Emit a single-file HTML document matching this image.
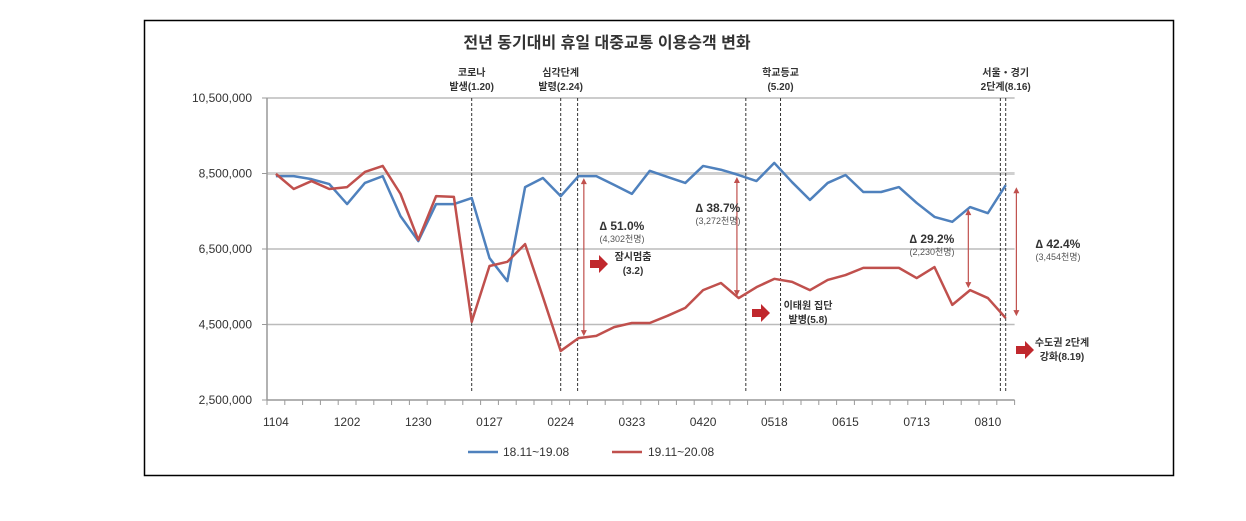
<!DOCTYPE html>
<html><head><meta charset="utf-8"><style>
body{margin:0;background:#fff;width:1246px;height:516px;overflow:hidden;font-family:"Liberation Sans","Noto Sans CJK KR",sans-serif}
svg text{font-family:"Liberation Sans","Noto Sans CJK KR",sans-serif}
</style></head><body>
<svg width="1246" height="516">
<rect x="144.5" y="20.5" width="1029" height="455" fill="#fff" stroke="#000" stroke-width="1.5"/>
<text x="607" y="48" text-anchor="middle" font-size="16" font-weight="bold" fill="#333">전년 동기대비 휴일 대중교통 이용승객 변화</text>
<g id="grid"></g><g id="axes"></g><g id="events"></g><g id="series"></g><g id="notes"></g>
<g>
<line x1="468" y1="452" x2="498" y2="452" stroke="#4f81bd" stroke-width="2.5"/>
<text x="503" y="456" font-size="12" fill="#333">18.11~19.08</text>
<line x1="612" y1="452" x2="642" y2="452" stroke="#c0504d" stroke-width="2.5"/>
<text x="648" y="456" font-size="12" fill="#333">19.11~20.08</text>
</g>
</svg>
<script>
const categories = ["1104","1111","1118","1125","1202","1209","1216","1223","1230","0106","0113","0120","0127","0203","0210","0217","0224","0302","0309","0316","0323","0330","0406","0413","0420","0427","0504","0511","0518","0525","0601","0608","0615","0622","0629","0706","0713","0720","0727","0803","0810","0817"];
const prevYear = [8.43,8.43,8.35,8.22,7.69,8.25,8.43,7.37,6.71,7.69,7.69,7.85,6.26,5.65,8.14,8.38,7.90,8.43,8.43,8.20,7.96,8.57,8.41,8.25,8.70,8.60,8.46,8.30,8.78,8.27,7.80,8.25,8.46,8.01,8.01,8.14,7.72,7.35,7.22,7.61,7.45,8.19];
const thisYear = [8.49,8.09,8.30,8.09,8.14,8.54,8.70,7.96,6.74,7.90,7.88,4.57,6.05,6.16,6.63,5.23,3.80,4.14,4.20,4.43,4.54,4.54,4.73,4.94,5.41,5.60,5.20,5.49,5.71,5.63,5.41,5.68,5.81,6.00,6.00,6.00,5.73,6.02,5.02,5.41,5.20,4.67];
const yTicks = [2.5,4.5,6.5,8.5,10.5];
const yTickLabels = ["2,500,000","4,500,000","6,500,000","8,500,000","10,500,000"];
const xLabels = ["1104","1202","1230","0127","0224","0323","0420","0518","0615","0713","0810"];
const events = [
 {x:11.0, lines:["코로나","발생(1.20)"]},
 {x:16.0, lines:["심각단계","발령(2.24)"]},
 {x:16.95, lines:[]},
 {x:26.4, lines:[]},
 {x:28.35, lines:["학교등교","(5.20)"]},
 {x:40.7, lines:[]},
 {x:41.0, lines:["서울・경기","2단계(8.16)"]}
];
const NS="http://www.w3.org/2000/svg";
const X0=267, BW=17.8, Y0=400, PPM=37.75;
const xs=i=>X0+BW*(i+0.5);
const ys=v=>Y0-(v-2.5)*PPM;
function mk(tag,attrs,parent,txt){const e=document.createElementNS(NS,tag);for(const k in attrs)e.setAttribute(k,attrs[k]);if(txt!==undefined)e.textContent=txt;parent.appendChild(e);return e;}
const grid=document.getElementById('grid'),axes=document.getElementById('axes'),ev=document.getElementById('events'),ser=document.getElementById('series'),notes=document.getElementById('notes');
const XR=X0+BW*categories.length;
yTicks.forEach((t,i)=>{
 if(i>0){const g=mk('line',{x1:X0,x2:XR,y1:ys(t),y2:ys(t),stroke:t===8.5?'#d0d0d0':'#bbb','stroke-width':t===8.5?3:1.5},grid);
 
 }
 const l=mk('text',{x:X0-15,y:ys(t)+4,'text-anchor':'end','font-size':12,fill:'#333'},axes,yTickLabels[i]);
 
 
 mk('line',{x1:X0-5,x2:X0,y1:ys(t),y2:ys(t),stroke:'#999'},axes);
});
const ax=mk('line',{x1:X0,x2:XR,y1:Y0,y2:Y0,stroke:'#999','stroke-width':1.5},axes);


const ay=mk('line',{x1:X0,x2:X0,y1:ys(10.5),y2:Y0,stroke:'#999','stroke-width':1.5},axes);


for(let k=0;k<=categories.length;k++)mk('line',{x1:X0+BW*k,x2:X0+BW*k,y1:Y0,y2:Y0+5,stroke:'#999'},axes);
categories.forEach((c,i)=>{if(xLabels.includes(c)){const t=mk('text',{x:xs(i),y:Y0+26,'text-anchor':'middle','font-size':12,fill:'#333'},axes,c);
 
 }});
events.forEach(e=>{const x=X0+BW*(e.x+0.5);
 const l=mk('line',{x1:x,x2:x,y1:98,y2:392,stroke:'#333','stroke-dasharray':'3,2','stroke-width':1},ev);
 
 
 e.lines.forEach((s,j)=>{const t=mk('text',{x:x,y:76+j*14,'text-anchor':'middle','font-size':10,'font-weight':'bold',fill:'#333'},ev,s);
 
 });
});
function line(arr,color,name){const p=mk('polyline',{points:arr.map((v,i)=>xs(i)+','+ys(v)).join(' '),fill:'none',stroke:color,'stroke-width':2.5,'stroke-linejoin':'round'},ser);
 
 }
line(prevYear,'#4f81bd','series-2018-19');
line(thisYear,'#c0504d','series-2019-20');
const gaps=[{i:17.3,pct:"∆ 51.0%",n:"(4,302천명)",tx:622,ty:230},{i:25.9,pct:"∆ 38.7%",n:"(3,272천명)",tx:718,ty:212},{i:38.9,pct:"∆ 29.2%",n:"(2,230천명)",tx:932,ty:243},{i:41.6,pct:"∆ 42.4%",n:"(3,454천명)",tx:1058,ty:248}];
const gi=[17,26,39,41];
gaps.forEach((g,k)=>{const x=X0+BW*(g.i+0.5),idx=gi[k];
 const y1=ys(prevYear[idx])+2,y2=ys(thisYear[idx])-2;
 const a=mk('line',{x1:x,x2:x,y1:y1+5,y2:y2-5,stroke:'#c0504d','stroke-width':1.2},notes);
 
 
 mk('polygon',{points:`${x-3},${y1+6} ${x+3},${y1+6} ${x},${y1}`,fill:'#c0504d'},notes);
 mk('polygon',{points:`${x-3},${y2-6} ${x+3},${y2-6} ${x},${y2}`,fill:'#c0504d'},notes);
 const t=mk('text',{x:g.tx,y:g.ty,'text-anchor':'middle','font-size':12,'font-weight':'bold',fill:'#333'},notes,g.pct);
 
 
 const t2=mk('text',{x:g.tx,y:g.ty+12,'text-anchor':'middle','font-size':9,fill:'#555'},notes,g.n);
 
 
});
const calls=[{x:590,y:264,l:["잠시멈춤","(3.2)"],tx:633},{x:752,y:313,l:["이태원 집단","발병(5.8)"],tx:808},{x:1016,y:350,l:["수도권 2단계","강화(8.19)"],tx:1062}];
calls.forEach(c=>{const p=mk('polygon',{points:`${c.x},${c.y-4} ${c.x+9},${c.y-4} ${c.x+9},${c.y-9} ${c.x+18},${c.y} ${c.x+9},${c.y+9} ${c.x+9},${c.y+4} ${c.x},${c.y+4}`,fill:'#c0282d'},notes);
 
 
 c.l.forEach((s,j)=>{const t=mk('text',{x:c.tx,y:c.y-8+j*14+4,'text-anchor':'middle','font-size':10,'font-weight':'bold',fill:'#333'},notes,s);
 
 });
});
</script>
</body></html>
